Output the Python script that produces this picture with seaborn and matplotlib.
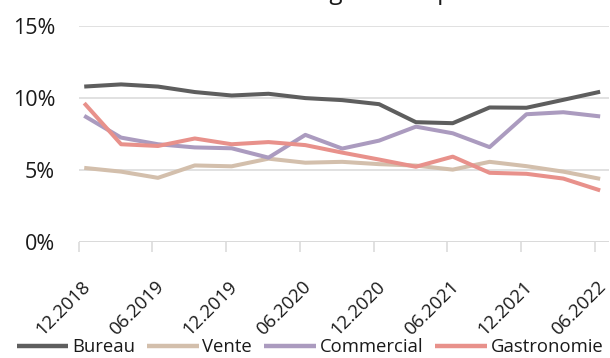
import matplotlib
matplotlib.use("Agg")
import matplotlib.pyplot as plt
import matplotlib.transforms as mtransforms
import seaborn as sns
import pandas as pd
from matplotlib.ticker import FixedLocator, FuncFormatter

# Quarterly vacancy rates (%) by segment, 12.2018 - 06.2022
periods = ["12.2018", "03.2019", "06.2019", "09.2019", "12.2019", "03.2020",
           "06.2020", "09.2020", "12.2020", "03.2021", "06.2021", "09.2021",
           "12.2021", "03.2022", "06.2022"]
bureau = [10.8, 10.95, 10.8, 10.42, 10.18, 10.3, 10.0, 9.86, 9.58, 8.33,
          8.26, 9.35, 9.33, 9.88, 10.44]
vente = [5.16, 4.9, 4.47, 5.33, 5.27, 5.8, 5.52, 5.58, 5.42, 5.32, 5.04,
         5.58, 5.28, 4.9, 4.4]
commercial = [8.77, 7.26, 6.8, 6.58, 6.52, 5.87, 7.45, 6.5, 7.05, 8.02,
              7.56, 6.6, 8.88, 9.02, 8.73]
gastronomie = [9.65, 6.8, 6.68, 7.2, 6.8, 6.95, 6.74, 6.22, 5.74, 5.24,
               5.94, 4.82, 4.75, 4.42, 3.6]

series = {"Bureau": bureau, "Vente": vente, "Commercial": commercial,
          "Gastronomie": gastronomie}
colors = {"Bureau": "#5e5e5e", "Vente": "#d3bfac", "Commercial": "#ab9bbf",
          "Gastronomie": "#e8918b"}

rows = []
for name, vals in series.items():
    for i, v in enumerate(vals):
        rows.append({"idx": i, "periode": periods[i], "segment": name, "taux": v})
df = pd.DataFrame(rows)

sns.set_theme(style="white")
plt.rcParams["font.family"] = ["Open Sans", "DejaVu Sans"]

W, H = 610, 358
fig = plt.figure(figsize=(W / 100, H / 100), dpi=100)
left, right = 78.7, 609.0
top, bottom = 26.0, 242.3
ax = fig.add_axes([left / W, 1 - bottom / H, (right - left) / W, (bottom - top) / H])

sns.lineplot(data=df, x="idx", y="taux", hue="segment", palette=colors,
             linewidth=2.9, ax=ax, legend=True, sort=False)
for line in ax.lines:
    line.set_solid_capstyle("butt")
    line.set_solid_joinstyle("round")
    line.set_clip_on(False)

ax.set_xlim(-0.15, 14.24)
ax.set_ylim(0, 15)
ax.set_xlabel("")
ax.set_ylabel("")

grid_c = "#d9d9d9"
ax.set_yticks([0, 5, 10, 15])
ax.yaxis.set_major_formatter(FuncFormatter(lambda v, p: f"{v:.0f}%"))
ax.grid(axis="y", color=grid_c, linewidth=1.1)
ax.grid(axis="x", visible=False)
ax.set_axisbelow(True)
for s in ax.spines.values():
    s.set_visible(False)
ax.tick_params(axis="y", length=0, pad=17, labelsize=15.5, labelcolor="#1a1a1a")

# labels sit on every second quarter; tick marks sit on the category edges
label_pos = list(range(0, 15, 2))
ax.set_xticks(label_pos)
ax.set_xticklabels([periods[i] for i in label_pos], rotation=45,
                   ha="right", va="center", rotation_mode="anchor")
ax.tick_params(axis="x", length=0, pad=30, labelsize=13.4, labelcolor="#1a1a1a")
shift = mtransforms.ScaledTranslation(3 / 100, 0, fig.dpi_scale_trans)
for lab in ax.get_xticklabels():
    lab.set_transform(lab.get_transform() + shift)
ax.xaxis.set_minor_locator(FixedLocator([p - 0.15 for p in label_pos]))
ax.tick_params(axis="x", which="minor", length=7, width=1.1, color=grid_c,
               direction="out", bottom=True)
ax.axhline(0, color=grid_c, linewidth=1.1, zorder=0)

handles, labels = ax.get_legend_handles_labels()
ax.legend_.remove()
leg = fig.legend(handles, labels, loc="center", bbox_to_anchor=(310 / W, 1 - 347 / H),
                 ncol=4, frameon=False, fontsize=13.3, handlelength=2.8,
                 handletextpad=0.2, columnspacing=0.65, borderaxespad=0,
                 borderpad=0)
for h in leg.legend_handles:
    h.set_linewidth(3.2)
for t in leg.get_texts():
    t.set_color("#1a1a1a")

# chart heading, mostly above the top edge of the canvas
fig.text(318 / W, 1 + 0.6 / H, "Vacance selon le segment et période", ha="center",
         va="baseline", fontsize=17.5, color="#1a1a1a")

fig.savefig("out.png", dpi=100)
